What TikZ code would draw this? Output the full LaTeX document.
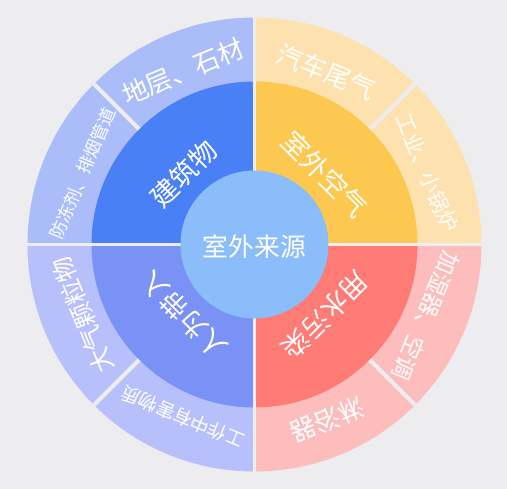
\documentclass[tikz,border=0pt]{standalone}
\usepackage{fontspec}
\setmainfont{Noto Sans CJK SC}

\definecolor{bgc}{HTML}{EDEDF0}
\definecolor{srcc}{HTML}{8BBDFA}
\definecolor{bldc}{HTML}{4A80F5}
\definecolor{airc}{HTML}{FDC850}
\definecolor{watc}{HTML}{FE7B76}
\definecolor{humc}{HTML}{7A92F6}
\definecolor{bldl}{HTML}{AABDF9}
\definecolor{airl}{HTML}{FDE1AF}
\definecolor{watl}{HTML}{FDBDBD}
\definecolor{huml}{HTML}{B7C0FA}

\begin{document}
\begin{tikzpicture}[
    x=0.03cm, y=0.03cm,
    % 定义通用样式
    lbl/.style={text=white, inner sep=0pt, align=center},
    biglbl/.style={lbl, font=\fontsize{22}{24}\selectfont},
    midlbl/.style={lbl, font=\fontsize{18}{20}\selectfont},
    smalllbl/.style={lbl, font=\fontsize{15}{17}\selectfont},
    inlbl/.style={lbl, font=\fontsize{23}{25}\selectfont},
    % 定义分隔线样式
    gap/.style={draw=bgc, line width=3.4pt}
]

% 背景
\fill[bgc] (-254.5,-244.5) rectangle (252.5,244.5);
\useasboundingbox (-254.5,-244.5) rectangle (252.5,244.5);

% ====================
% 外圈
% ====================
\foreach \a/\c in {90/bldl, 0/airl, 270/watl, 180/huml}
    \fill[\c] (0,0) -- (\a:227) arc[start angle=\a, delta angle=90, radius=227] -- cycle;

% ====================
% 内圈
% ====================
\foreach \a/\c in {90/bldc, 0/airc, 270/watc, 180/humc}
    \fill[\c] (0,0) -- (\a:163) arc[start angle=\a, delta angle=90, radius=163] -- cycle;

% 分隔线
\draw[gap] (180:230) -- (0:230);
\draw[gap] (90:230) -- (270:230);
\foreach \a in {45,135,225,315}
    \draw[gap] (\a:163) -- (\a:230);

% 中心
\fill[srcc] (0,0) circle[radius=74];
\node[lbl, font=\fontsize{22}{24}\selectfont] (src) at (0,-2) {室外来源};

% 内圈文字
\node[inlbl, rotate=45] (bldg) at (135:100) {建筑物};
\node[inlbl, rotate=-45] (air) at (45:100) {室外空气};
\node[inlbl, rotate=225] (water) at (315:100) {用水污染};
\node[inlbl, rotate=135] (human) at (225:100) {人为带入};

% 外圈文字
\node[biglbl, rotate=22.5] (stone) at (112.5:187) {地层、石材};
\node[smalllbl, rotate=67.5] (pipe) at (157.5:186) {防冻剂、排烟管道};
\node[biglbl, rotate=-22.5] (car) at (67.5:187) {汽车尾气};
\node[midlbl, rotate=-67.5] (boiler) at (22.5:187) {工业、小锅炉};
\node[lbl, font=\fontsize{19.5}{21}\selectfont, rotate=247.5] (humid) at (337.5:186) {加湿器、空调};
\node[biglbl, rotate=202.5] (shower) at (292.5:190) {淋浴器};
\node[smalllbl, font=\fontsize{16}{18}\selectfont, rotate=157.5] (work) at (247.5:187) {工作中有害物质};
\node[lbl, font=\fontsize{21}{23}\selectfont, rotate=112.5] (dust) at (202.5:186) {大气颗粒物};

\end{tikzpicture}
\end{document}
